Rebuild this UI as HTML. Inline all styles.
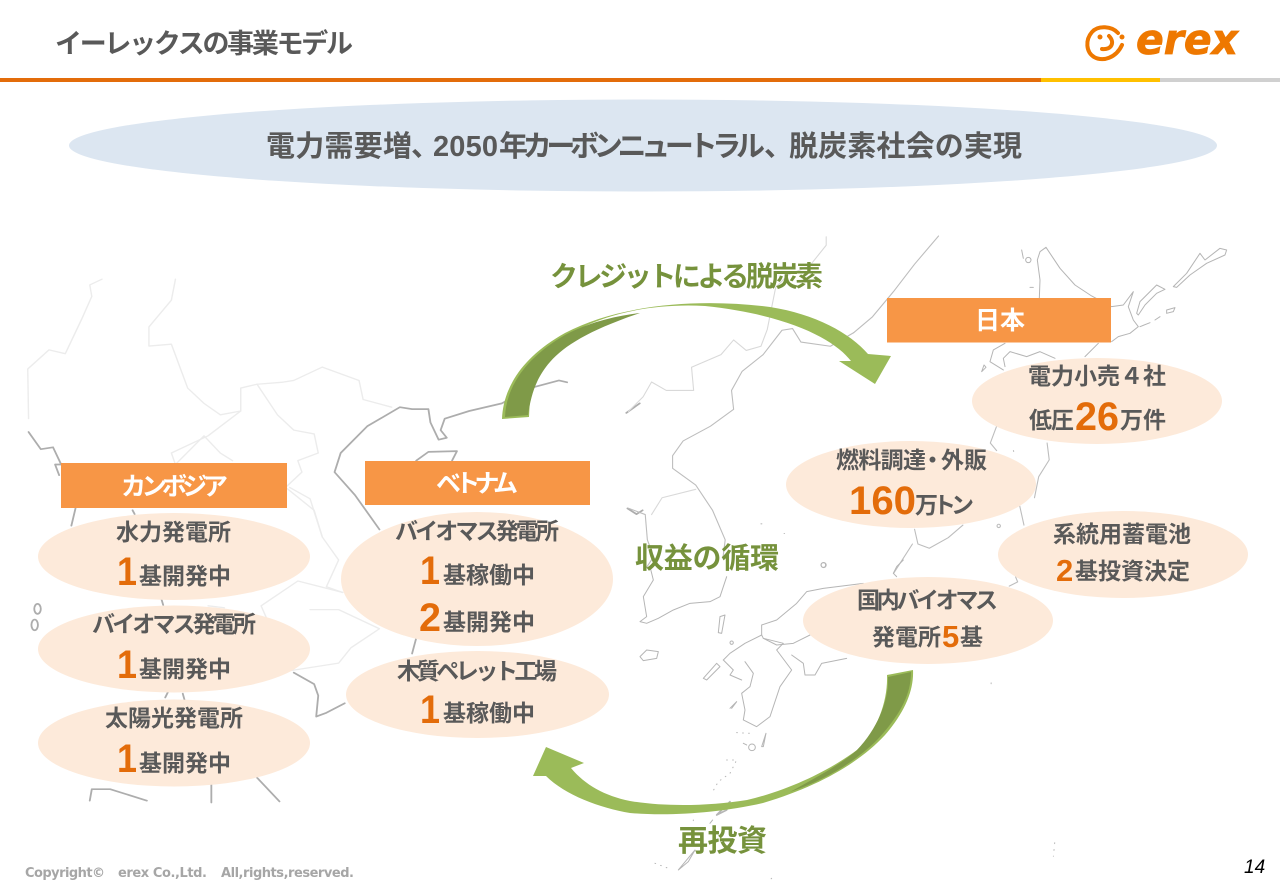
<!DOCTYPE html>
<html lang="ja"><head><meta charset="utf-8"><title>イーレックスの事業モデル</title>
<style>
html,body{margin:0;padding:0;background:#fff;width:1280px;height:886px;overflow:hidden}
svg{display:block}
text{font-family:"Liberation Sans","Noto Sans CJK JP",sans-serif;font-weight:700;fill:#595959}
.o{fill:#E36C0A}
.w{fill:#fff}
.g{fill:#76923C}
</style></head><body>
<svg width="1280" height="886" viewBox="0 0 1280 886" xmlns="http://www.w3.org/2000/svg">
<rect width="1280" height="886" fill="#fff"/>
<text x="55" y="53" font-size="27" textLength="298">イーレックスの事業モデル</text>
<rect y="78" width="1041" height="4" fill="#E36C0A"/><rect x="1041" y="78" width="119" height="4" fill="#FFC000"/><rect x="1160" y="78" width="120" height="4" fill="#D0D0D0"/>
<g fill="none" stroke="#EE7800" stroke-width="4" stroke-linecap="round">
<path d="M1118,33C1112,26 1098,25 1092,32C1085,40 1086,52 1094,57C1103,62 1116,58 1122,45"/>
<path d="M1109,36C1115,42 1112,50 1102,49"/>
</g>
<circle cx="1100" cy="37" r="2.500" fill="#EE7800"/><circle cx="1122" cy="37" r="2.500" fill="#EE7800"/>
<text x="1136" y="54" font-size="42" textLength="102" lengthAdjust="spacingAndGlyphs" font-style="italic" stroke="#EE7800" stroke-width=".8" style="font-family:'DejaVu Sans',sans-serif;fill:#EE7800">erex</text>

<ellipse cx="643" cy="145.500" rx="574" ry="46" fill="#DCE6F1"/>
<g font-size="29">
<text x="266" y="156" textLength="146">電力需要増</text>
<text x="411" y="156">、</text>
<text x="433" y="156" textLength="65">2050</text>
<text x="499" y="156" textLength="266">年カーボンニュートラル</text>
<text x="764" y="156">、</text>
<text x="789" y="156" textLength="233">脱炭素社会の実現</text>
</g>

<!-- left map -->
<g transform="translate(0,220) scale(.408,.382)" fill="none" stroke-linejoin="round" stroke-linecap="round">
<g stroke="#ECECEC" stroke-width="3.500">
<path d="M70,520L68,390L120,340L160,350L200,260L225,200L220,170L250,155"/>
<path d="M430,155L420,210L365,280L365,330L420,325L460,440L500,480L540,510L590,500L590,440L630,430L690,425L720,420L790,385L880,420L890,470L960,490"/>
<path d="M630,430L680,510L720,550L770,560L780,610L730,630L740,660L700,700L770,760L790,830L830,890L800,960L840,975"/>
<path d="M590,500L510,565L420,610L430,640L500,565L540,610L570,630"/>
<path d="M710,700L760,730L790,830"/>
<path d="M840,975L730,945L640,1010L710,1180"/>
<path d="M760,1020L830,1020L930,1070L860,1120L830,1160L710,1180"/>
<path d="M510,1010L550,1015"/>
</g>
<g stroke="#ADADAD" stroke-width="4.500">
<path d="M70,555L100,600L130,595L150,640L135,640L145,668"/>
<path d="M1390,425L1370,420L1300,440L1230,480L1150,500L1090,520L1080,550L1095,570L1075,575L1055,530L1050,495L1010,495L980,490L900,540L835,610L820,660L870,720L930,810"/>
<path d="M1020,630L1050,607L1120,605L1108,630"/>
<path d="M1020,1095L1010,1135"/>
<path d="M720,1185L770,1215L780,1245L775,1300L800,1290L845,1265"/>
<path d="M220,1520L225,1490L270,1490L360,1520"/>
<path d="M518,1470L518,1525M630,1460L685,1522"/>
<path d="M405,1250L412,1235M448,1240L452,1255M395,990L400,1008M185,755L175,800M325,760L330,770"/>
<path d="M1535,505L1568,480M1538,755L1560,770L1575,760"/>
<ellipse cx="92" cy="1018" rx="8" ry="13"/><ellipse cx="85" cy="1060" rx="8" ry="14"/>
</g>
</g>

<!-- mid map -->
<g transform="translate(620,220) scale(.4208)" fill="none" stroke="#BDBDBD" stroke-width="2.600" stroke-linejoin="round" stroke-linecap="round">
<path stroke="#D9D9D9" d="M490,40L490,60L450,110L400,130L370,160L350,260L335,300L300,310L270,285L240,320L170,350L175,405L110,405L75,385L55,420L20,455"/>
<path d="M757,38L700,105L650,170L600,230L555,268"/>
<path d="M555,268L500,300L430,290L410,258L385,262L340,320L290,360L265,405L270,450L215,490L150,525L125,560L125,590L180,630L220,690L250,760L245,800"/>
<path d="M60,830L80,800L65,760L60,700L20,685"/>
<path stroke="#D9D9D9" d="M180,640L100,660L75,700"/>
<path d="M895,490L880,530L895,548M1015,530L1020,570L995,610L985,660M950,680L960,725"/>
<path d="M815,725L780,755L735,780L708,770L700,735M695,770L650,840"/>
<circle cx="484" cy="820" r="6"/><circle cx="900" cy="727" r="4"/>
<path d="M925,870L945,860L940,848"/>
<path stroke-dasharray="2 14" d="M1033,1480L1030,1512M935,548L936,552M882,1100L882,1102M335,722L337,722M390,745L391,745"/>
</g>

<!-- hokkaido / kuril -->
<g transform="translate(960,230) scale(.3333)" fill="none" stroke="#B5B5B5" stroke-width="3" stroke-linejoin="round" stroke-linecap="round">
<path d="M238,205L240,150L232,90L240,65L258,52L280,85L300,115L345,165L395,198L455,230L490,225L520,185L505,230L520,270L535,290L510,310L475,320L455,335"/>
<path d="M415,340L375,380M135,340L100,360L90,395L130,420M135,410L130,385L150,365L200,380L240,365L285,385"/>
<path d="M530,250L540,215L590,165L615,178L590,190L555,225L535,255Z"/>
<path d="M640,170L680,130L720,70L735,90L780,55L800,60L795,75L740,100L690,135L650,172Z"/>
<path d="M620,240L645,233L640,245L620,250Z"/>
<path d="M540,290L570,278M585,270L600,260M210,172L220,172M185,60L190,85"/>
<circle cx="205" cy="90" r="8"/>
<path d="M72,405L78,412L65,425Z"/>
</g>

<!-- korea south / kyushu -->
<g transform="translate(630,560) scale(.3333)" fill="none" stroke="#B5B5B5" stroke-width="3" stroke-linejoin="round" stroke-linecap="round">
<path d="M290,50L270,110L240,125L180,130L130,150L85,175L50,190L30,185L50,170L40,110L70,60L60,20"/>
<path d="M30,290L50,270L85,275L80,295L40,302Z"/>
<path d="M270,170L285,165L275,220L265,218Z"/>
<path d="M800,50L790,40L800,20L820,0"/>
<path d="M700,70L580,85L530,95L500,130L440,180L395,195L395,225L345,250L300,280L280,300"/>
<path d="M280,300L310,330L300,345L335,360M345,305L370,340L360,380L335,400L345,450L340,480L380,500L420,470L450,380L485,330L440,270L460,250L400,235L395,225"/>
<path d="M400,235L440,255L490,250L540,225M485,285L520,310L525,345L555,345L575,310L650,295"/>
<path d="M220,355L260,310L270,320L230,360Z"/>
<path d="M395,560L408,520L400,560Z"/>
<circle cx="366" cy="562" r="10"/><circle cx="305" cy="248" r="5"/><circle cx="580" cy="15" r="7"/>
<path d="M300,445L320,425L305,445M340,550L350,555"/>
<path d="M260,765L300,725L290,750Z" stroke-width="5"/>
<path d="M145,930L195,870L175,905Z"/>
<path d="M240,790L248,780"/>
<path stroke-dasharray="2 16" d="M320,518L360,520M290,600L320,600L300,640L265,665L247,697M75,910L115,925M190,780L190,782M425,955L420,960"/>
</g>

<!-- arrows -->
<path d="M502,419C503,390 520,358 565,333C620,304 700,298 770,307C815,314 850,333 868,354L891,356L875,384L839,361L851,361C835,340 790,315 705,306C630,302 570,325 545,355C532,372 530,395 529,417Z" fill="#9BBB59"/>
<path d="M505,417C506,390 522,360 565,335C590,322 615,316 640,313C590,330 565,345 550,362C536,378 531,395 528,415Z" fill="#7F9A48"/>
<path d="M913,670C914,690 905,712 885,735C860,762 820,786 763,803C715,814 665,816 630,813C600,808 565,795 546,776L533,776L546,747L584,763L571,768C585,785 605,796 630,801C665,807 710,806 747,800C790,790 830,770 857,750C878,730 888,700 887,675Z" fill="#9BBB59"/>
<path d="M888,677L911,672C911,695 900,715 877,740C855,762 825,780 790,792C815,778 840,765 857,750C878,728 889,700 888,677Z" fill="#7F9A48"/>

<text class="g" x="550" y="286" font-size="28" textLength="273">クレジットによる脱炭素</text>
<text class="g" x="635" y="568" font-size="29" textLength="144">収益の循環</text>
<text class="g" x="678" y="851" font-size="30" textLength="89">再投資</text>

<g fill="#FDEADA">
<ellipse cx="174" cy="556.500" rx="136" ry="43.500"/><ellipse cx="174" cy="649" rx="136" ry="43.500"/><ellipse cx="174" cy="743" rx="136" ry="43.500"/>
<ellipse cx="477" cy="579" rx="136" ry="67"/><ellipse cx="477.500" cy="694.500" rx="131.500" ry="43.500"/>
<ellipse cx="1097" cy="401" rx="125" ry="43"/><ellipse cx="911" cy="484.500" rx="125" ry="43.500"/><ellipse cx="1123" cy="554.500" rx="125" ry="43.500"/><ellipse cx="928" cy="620.500" rx="125" ry="43.500"/>
</g>
<g fill="#F79646">
<rect x="61" y="463" width="226" height="45"/><rect x="365" y="461" width="225" height="44"/><rect x="887" y="298" width="224" height="44.500"/>
</g>
<text class="w" x="121" y="495" font-size="25" textLength="107">カンボジア</text>
<text class="w" x="436" y="492" font-size="25" textLength="82">ベトナム</text>
<text class="w" x="975" y="329" font-size="25" textLength="50">日本</text>

<g font-size="23">
<text x="116" y="540" textLength="115">水力発電所</text>
<text x="92" y="632" textLength="164">バイオマス発電所</text>
<text x="105" y="726" textLength="138">太陽光発電所</text>
<text x="139" y="584" textLength="92">基開発中</text>
<text x="139" y="677" textLength="92">基開発中</text>
<text x="139" y="771" textLength="92">基開発中</text>
<text x="395" y="539" textLength="164">バイオマス発電所</text>
<text x="443" y="583" textLength="92">基稼働中</text>
<text x="443" y="630" textLength="92">基開発中</text>
<text x="397" y="679" textLength="160">木質ペレット工場</text>
<text x="443" y="721" textLength="92">基稼働中</text>
<text x="1028" y="384" textLength="138">電力小売４社</text>
<text x="1029" y="428" textLength="45">低圧</text>
<text x="1120" y="428" textLength="46">万件</text>
<text x="836" y="468" textLength="90">燃料調達</text>
<text x="921" y="468">・</text>
<text x="941" y="468" textLength="46">外販</text>
<text x="915" y="513" textLength="59">万トン</text>
<text x="1053" y="542" textLength="138">系統用蓄電池</text>
<text x="1075" y="579" textLength="115">基投資決定</text>
<text x="857" y="608" textLength="141">国内バイオマス</text>
<text x="872" y="645" textLength="69">発電所</text>
<text x="960" y="645" textLength="23">基</text>
</g>
<g font-size="40">
<text class="o" x="117" y="585" textLength="20" lengthAdjust="spacingAndGlyphs">1</text>
<text class="o" x="117" y="678" textLength="20" lengthAdjust="spacingAndGlyphs">1</text>
<text class="o" x="117" y="772" textLength="20" lengthAdjust="spacingAndGlyphs">1</text>
<text class="o" x="420" y="584" textLength="20" lengthAdjust="spacingAndGlyphs">1</text>
<text class="o" x="420" y="723" textLength="20" lengthAdjust="spacingAndGlyphs">1</text>
<text class="o" x="419" y="631" textLength="22" lengthAdjust="spacingAndGlyphs">2</text>
<text class="o" x="1075" y="430" textLength="44" lengthAdjust="spacingAndGlyphs">26</text>
<text class="o" x="849" y="514" textLength="67" lengthAdjust="spacingAndGlyphs">160</text>
</g>
<g font-size="31">
<text class="o" x="1056" y="581">2</text>
<text class="o" x="942" y="647">5</text>
</g>

<g font-size="13" style="font-family:'DejaVu Sans',sans-serif">
<text x="25" y="877" textLength="80" style="font-family:'DejaVu Sans',sans-serif;fill:#A6A6A6">Copyright©</text>
<text x="118" y="877" textLength="89" style="font-family:'DejaVu Sans',sans-serif;fill:#A6A6A6">erex Co.,Ltd.</text>
<text x="221" y="877" textLength="133" style="font-family:'DejaVu Sans',sans-serif;fill:#A6A6A6">All,rights,reserved.</text>
</g>
<text x="1244" y="873" font-size="19" font-style="italic" style="font-weight:400;fill:#000">14</text>
</svg>
</body></html>
